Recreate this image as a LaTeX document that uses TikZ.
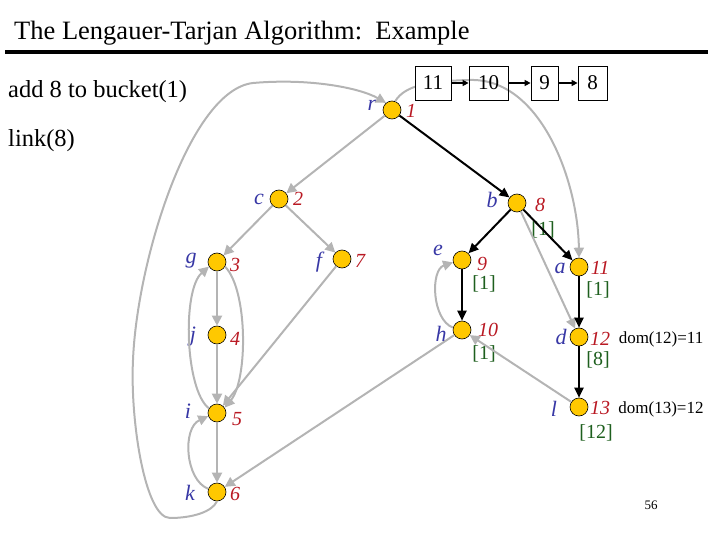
\documentclass[tikz,border=0pt]{standalone}
\usepackage{fontspec}
\setmainfont{Liberation Serif}
\usetikzlibrary{arrows.meta}
\definecolor{vyellow}{RGB}{255,200,0}
\definecolor{lblue}{RGB}{55,55,165}
\definecolor{lred}{RGB}{185,25,35}
\definecolor{lgreen}{RGB}{30,95,30}
\definecolor{edgegray}{RGB}{180,180,180}
\begin{document}
\begin{tikzpicture}[x=1pt,y=-1pt,
  vert/.style={circle, draw=black, fill=vyellow, minimum size=18pt, inner sep=0pt, line width=0.6pt},
  lett/.style={text=lblue, font=\fontsize{22}{24}\selectfont\itshape, inner sep=0pt},
  num/.style={text=lred, font=\fontsize{20}{24}\selectfont\itshape, inner sep=0pt},
  semi/.style={text=lgreen, font=\fontsize{20}{24}\selectfont, inner sep=0pt},
  gedge/.style={draw=edgegray, line width=2pt, -{Triangle[length=10pt,width=10pt]}},
  bedge/.style={draw=black, line width=2pt, -{Triangle[length=10pt,width=9pt]}},
  qbox/.style={draw, line width=0.8pt, minimum height=34pt, inner sep=0pt, font=\fontsize{21}{24}\selectfont},
  qarrow/.style={draw=black, line width=1.6pt, -{Triangle[length=6pt,width=6pt]}},
  plain/.style={inner sep=0pt, anchor=base west}]
\useasboundingbox (0,0) rectangle (720,540);

% title
\node[plain, font=\fontsize{26.5}{30}\selectfont] (title) at (14,40) {The Lengauer-Tarjan Algorithm:\ \ Example};
\draw[line width=4pt] (5,52) coordinate (tl) -- (708,52) coordinate (tr);
\node[plain, font=\fontsize{24.5}{28}\selectfont] (t1) at (8,98) {add 8 to bucket(1)};
\node[plain, font=\fontsize{24.5}{28}\selectfont] (t2) at (8,147) {link(8)};

% vertices
\node[vert] (r) at (392,110) {};
\node[vert] (c) at (279,199) {};
\node[vert] (g) at (217,262) {};
\node[vert] (f) at (342,259) {};
\node[vert] (j) at (217,335) {};
\node[vert] (i) at (217,413) {};
\node[vert] (k) at (217,492) {};
\node[vert] (b) at (517,203) {};
\node[vert] (e) at (462,260) {};
\node[vert] (a) at (579,267) {};
\node[vert] (h) at (462,330) {};
\node[vert] (d) at (579,337) {};
\node[vert] (l) at (579,407) {};

% letters
\node[lett] (lr) at (372,105) {r};
\node[lett] (lc) at (259,199) {c};
\node[lett] (lg) at (191,261) {g};
\node[lett] (lj) at (193,337) {j};
\node[lett] (li) at (188,411) {i};
\node[lett] (lk) at (190,493) {k};
\node[lett] (lf) at (319,262) {f};
\node[lett] (lb) at (492,200) {b};
\node[lett] (le) at (438,250) {e};
\node[lett] (lh) at (441,334) {h};
\node[lett] (la) at (560,268) {a};
\node[lett] (ld) at (561,337) {d};
\node[lett] (ll) at (554,409) {l};

% numbers
\node[num] (n1) at (411,111) {1};
\node[num] (n2) at (298,199) {2};
\node[num] (n3) at (235,265) {3};
\node[num] (n4) at (235,339) {4};
\node[num] (n5) at (237,419) {5};
\node[num] (n6) at (235,494) {6};
\node[num] (n7) at (360,261) {7};
\node[num] (n8) at (540,205) {8};
\node[num] (n9) at (482,264) {9};
\node[num] (n10) at (488,330) {10};
\node[num] (n11) at (600,268) {11};
\node[num] (n12) at (600,339) {12};
\node[num] (n13) at (600,408) {13};

% semi-dominator labels
\node[semi] (sb) at (543,230) {[1]};
\node[semi] (se) at (484,284) {[1]};
\node[semi] (sa) at (598,290) {[1]};
\node[semi] (sh) at (484,354) {[1]};
\node[semi] (sd) at (598,360) {[8]};
\node[semi] (sl) at (596,433) {[12]};

\node[inner sep=0pt, font=\fontsize{17}{19}\selectfont] (dom12) at (661,339) {dom(12)=11};
\node[inner sep=0pt, font=\fontsize{17}{19}\selectfont] (dom13) at (661,409) {dom(13)=12};
\node[inner sep=0pt, font=\fontsize{13}{15}\selectfont] (pg) at (651,505) {56};

% gray edge r -> a over the boxes area
\draw[gedge] (r.70) .. controls (405,85) and (430,81) .. (470,80) .. controls (540,78) and (578,180) .. (a.north);

% bucket boxes
\node[qbox, fill=white, minimum width=36pt] (q11) at (433,83) {11};
\node[qbox, minimum width=39pt] (q10) at (488.5,83) {10};
\node[qbox, minimum width=27pt] (q9) at (544.5,83) {9};
\node[qbox, minimum width=29pt] (q8) at (592.5,83) {8};
\draw[qarrow] (q11) -- (q10);
\draw[qarrow] (q10) -- (q9);
\draw[qarrow] (q9) -- (q8);

% gray edges
\draw[gedge] (r) -- (c);
\draw[gedge] (c) -- (g);
\draw[gedge] (c) -- (f);
\draw[gedge] (g) -- (j);
\draw[gedge] (j) -- (i);
\draw[gedge] (i) -- (k);
\draw[gedge] (f) -- (i);
\draw[gedge] (i.150) .. controls (185,390) and (182,290) .. (g.210);
\draw[gedge] (g.330) .. controls (248,290) and (248,380) .. (i.35);
\draw[gedge] (k.160) .. controls (185,480) and (182,428) .. (i.200);
\draw[gedge] (k.south) .. controls (212,512) and (192,518) .. (170,518)
   .. controls (145,518) and (130,420) .. (133,360)
   .. controls (137,260) and (190,90) .. (253,83)
   .. controls (310,78) and (360,88) .. (r.130);
\draw[gedge] (b) -- (d);
\draw[gedge] (h.165) .. controls (432,320) and (430,270) .. (e.195);
\draw[gedge] (l) -- (h);
\draw[gedge] (h) -- (k);

% black tree edges
\draw[bedge] (r) -- (b);
\draw[bedge] (b) -- (e);
\draw[bedge] (b) -- (a);
\draw[bedge] (e) -- (h);
\draw[bedge] (a) -- (d);
\draw[bedge] (d) -- (l);
\end{tikzpicture}
\end{document}
